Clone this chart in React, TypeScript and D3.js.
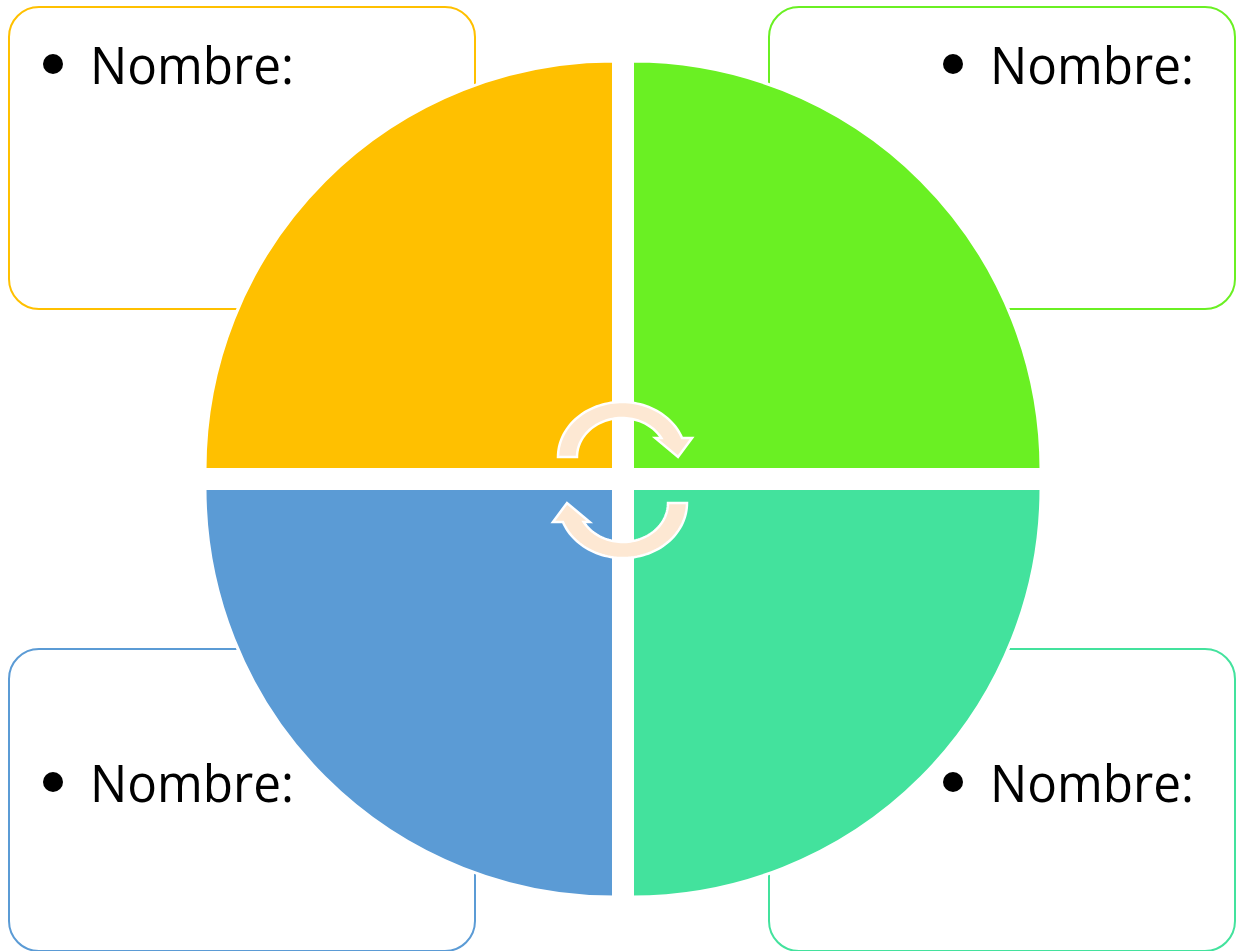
import React from "react";
import * as d3 from "d3";

// ---- data ----
const labels: string[] = ["Nombre:", "Nombre:", "Nombre:", "Nombre:"];
const quadrants: string[] = ["tl", "tr", "bl", "br"];
const quadrantColors: string[] = ["#FFC000", "#6AF023", "#5B9BD5", "#43E29D"];
const arrowColor = "#FDE8D3";

const W = 1238;
const H = 951;

// layout helpers
const CX = 623;
const CY = 479;
const HALF_GAP = 9.5;
const R = 408.5;

const boxX = d3.scaleOrdinal<string, number>().domain(["l", "r"]).range([9, 769]);
const boxY = d3.scaleOrdinal<string, number>().domain(["t", "b"]).range([7, 649]);
const BOX_W = 466;
const BOX_H = 302;

const quadAngles: Record<string, [number, number]> = {
  tl: [-Math.PI / 2, 0],
  tr: [0, Math.PI / 2],
  br: [Math.PI / 2, Math.PI],
  bl: [Math.PI, (3 * Math.PI) / 2],
};

function ellipsePts(cx: number, cy: number, rx: number, ry: number, a0: number, a1: number, n = 60): [number, number][] {
  return d3.range(n + 1).map((i) => {
    const a = a0 + ((a1 - a0) * i) / n;
    return [cx + rx * Math.cos(a), cy - ry * Math.sin(a)] as [number, number];
  });
}

function arrowPath(): string {
  const cx = 622, cy = 457;
  const Rx = 64, Ry = 55, rx = 45, ry = 39;
  const headDy = 19;
  const thO = Math.asin(headDy / Ry);
  const thI = Math.asin(headDy / rx > 1 ? 1 : headDy / ry);
  const outer = ellipsePts(cx, cy, Rx, Ry, Math.PI, thO);
  const inner = ellipsePts(cx, cy, rx, ry, thI, Math.PI);
  const oEnd = outer[outer.length - 1];
  const iStart = inner[0];
  const head: [number, number][] = [
    [oEnd[0] + 10, cy - headDy],
    [678, cy],
    [iStart[0] - 6, cy - headDy],
  ];
  const pts = [...outer, ...head, ...inner];
  return (d3.line()(pts) || "") + "Z";
}

export default function App() {
  const arc = d3.arc<any>().innerRadius(0).outerRadius(R);
  const ap = arrowPath();
  return (
    <svg
      width={W}
      height={H}
      style={{ position: "absolute", left: 0, top: 0, display: "block", background: "#fff" }}
    >
      {/* boxes */}
      {quadrants.map((q, i) => (
        <rect
          key={"b" + q}
          x={boxX(q[1])}
          y={boxY(q[0])}
          width={BOX_W}
          height={BOX_H}
          rx={30}
          ry={30}
          fill="#fff"
          stroke={quadrantColors[i]}
          strokeWidth={2}
        />
      ))}
      {/* quadrants */}
      {quadrants.map((q, i) => {
        const dx = q[1] === "l" ? -HALF_GAP : HALF_GAP;
        const dy = q[0] === "t" ? -HALF_GAP : HALF_GAP;
        const [s, e] = quadAngles[q];
        return (
          <path
            key={"q" + q}
            d={arc({ startAngle: s, endAngle: e }) || ""}
            transform={`translate(${CX + dx},${CY + dy})`}
            fill={quadrantColors[i]}
            stroke="#fff"
            strokeWidth={3}
          />
        );
      })}
      {/* texts */}
      {quadrants.map((q, i) => {
        const bx = q[1] === "l" ? 53 : 953;
        const base = q[0] === "t" ? 84 : 802;
        return (
          <g key={"t" + q}>
            <circle cx={bx} cy={base - 20} r={10} fill="#000" />
            <text
              x={bx + 37}
              y={base}
              fontFamily="'Open Sans', 'DejaVu Sans', sans-serif"
              fontSize={51}
              textLength={204}
              lengthAdjust="spacingAndGlyphs"
              fill="#000"
            >
              {labels[i]}
            </text>
          </g>
        );
      })}
      {/* arrows */}
      <path d={ap} fill={arrowColor} stroke="#fff" strokeWidth={2.5} strokeLinejoin="miter" />
      <path d={ap} transform="rotate(180,622.5,480)" fill={arrowColor} stroke="#fff" strokeWidth={2.5} />
    </svg>
  );
}
